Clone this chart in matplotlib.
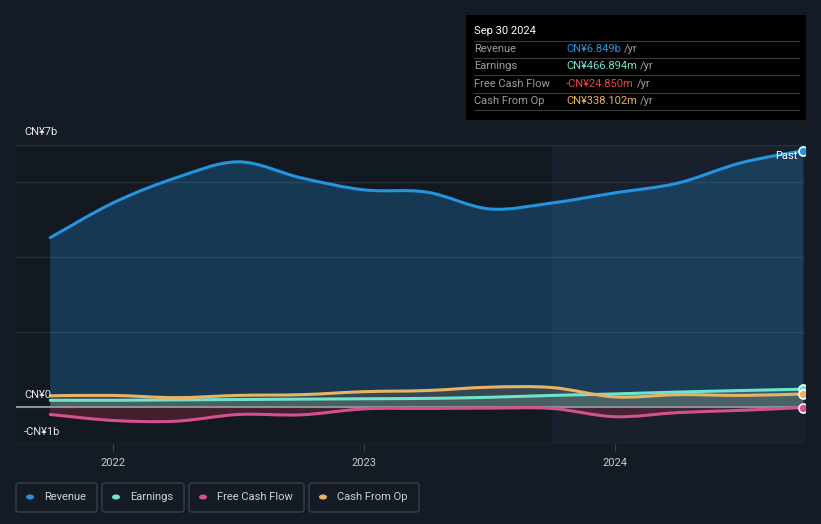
import matplotlib.pyplot as plt
import numpy as np
from matplotlib.path import Path
from matplotlib.patches import PathPatch, Rectangle, FancyBboxPatch, Circle

plt.rcParams['font.family'] = ['Roboto', 'DejaVu Sans']

# quarter ends, Sep 2021 .. Sep 2024 (decimal years)
quarters = [2021.75, 2022.0, 2022.25, 2022.5, 2022.75, 2023.0, 2023.25,
            2023.5, 2023.75, 2024.0, 2024.25, 2024.5, 2024.75]
# values in CN¥ billions
revenue = [4.52, 5.45, 6.12, 6.55, 6.12, 5.80, 5.74, 5.29, 5.45, 5.72, 5.98, 6.52, 6.849]
earnings = [0.17, 0.17, 0.18, 0.19, 0.20, 0.21, 0.22, 0.25, 0.30, 0.34, 0.39, 0.43, 0.467]
fcf = [-0.21, -0.37, -0.39, -0.21, -0.22, -0.06, -0.05, -0.04, -0.05, -0.27, -0.16, -0.10, -0.025]
cfo = [0.29, 0.30, 0.24, 0.30, 0.32, 0.40, 0.43, 0.52, 0.51, 0.26, 0.32, 0.30, 0.338]

series_names = ['Revenue', 'Earnings', 'Free Cash Flow', 'Cash From Op']
series_colors = ['#2394df', '#6fe3cb', '#d4508f', '#e9b366']
tooltip_values = ['CN¥6.849b', 'CN¥466.894m', '-CN¥24.850m', 'CN¥338.102m']
value_colors = ['#2394df', '#6fe3cb', '#e84545', '#e9b366']
year_ticks = [2022, 2023, 2024]

BG = '#151b24'
W, H = 821, 524


def fx(px):
    return px / W


def fy(py):
    return 1 - py / H


def smooth_path(xs, ys):
    # Catmull-Rom style cubic bezier through the data points
    xs = np.asarray(xs, float)
    ys = np.asarray(ys, float)
    n = len(xs)
    verts = [(xs[0], ys[0])]
    codes = [Path.MOVETO]
    for i in range(n - 1):
        i0 = max(i - 1, 0)
        i3 = min(i + 2, n - 1)
        c1 = (xs[i] + (xs[i + 1] - xs[i0]) / 6, ys[i] + (ys[i + 1] - ys[i0]) / 6)
        c2 = (xs[i + 1] - (xs[i3] - xs[i]) / 6, ys[i + 1] - (ys[i3] - ys[i]) / 6)
        verts += [c1, c2, (xs[i + 1], ys[i + 1])]
        codes += [Path.CURVE4] * 3
    return verts, codes


fig = plt.figure(figsize=(8.21, 5.24), dpi=100)
fig.patch.set_facecolor(BG)

ax = fig.add_axes([fx(16), fy(444), fx(805) - fx(16), fy(145) - fy(444)])
ax.set_facecolor(BG)
x_left = 2022 - (113 - 16) / 251
x_right = 2024 + (805 - 615) / 251
x_split = 2024 + (552 - 615) / 251
ax.set_xlim(x_left, x_right)
ax.set_ylim(-1, 7)
for s in ax.spines.values():
    s.set_visible(False)

# highlighted last year
ax.axvspan(x_split, x_right, color='#1c2a3a', alpha=0.4, zorder=0, lw=0)
ax.axvspan(x_left, x_split, color='#0e1218', alpha=0.2, zorder=0, lw=0)

for g in [2, 4, 6, 7]:
    ax.axhline(g, color='#2a313b', lw=1, zorder=1)
ax.axhline(-1, color='#3a414b', lw=1, zorder=1)

fill_colors = ['#2394df', '#7fbfae', '#a02840', '#b08a50']
fill_alphas = [0.26, 0.22, 0.35, 0.2]
for vals, col, fcol, fa in zip([revenue, earnings, fcf, cfo], series_colors, fill_colors, fill_alphas):
    verts, codes = smooth_path(quarters, vals)
    fverts = verts + [(quarters[-1], 0), (quarters[0], 0), (quarters[0], vals[0])]
    fcodes = codes + [Path.LINETO, Path.LINETO, Path.CLOSEPOLY]
    ax.add_patch(PathPatch(Path(fverts, fcodes), facecolor=fcol, alpha=fa, lw=0, zorder=2))

ax.axhline(0, color='#8a9098', lw=1.5, zorder=3)

for vals, col in zip([revenue, earnings, fcf, cfo], series_colors):
    verts, codes = smooth_path(quarters, vals)
    ax.add_patch(PathPatch(Path(verts, codes), facecolor='none', edgecolor=col,
                           lw=2.2, zorder=4, capstyle='round'))
    ax.plot(quarters[-1], vals[-1], 'o', ms=6.5, mfc=col, mec='white', mew=1.2,
            zorder=6, clip_on=True)

ax.set_xticks(year_ticks)
ax.set_xticklabels([str(y) for y in year_ticks])
ax.tick_params(axis='x', colors='#3a414b', length=5, labelcolor='#c8ccd0', labelsize=8, pad=5)
ax.set_yticks([])

# y labels
fig.text(fx(24), fy(132), 'CN¥7b', color='#e6e8ea', fontsize=8, va='center')
fig.text(fx(24), fy(395), 'CN¥0', color='#e6e8ea', fontsize=8, va='center')
fig.text(fx(24), fy(432), '-CN¥1b', color='#e6e8ea', fontsize=8, va='center')
fig.text(fx(797), fy(156), 'Past', color='#ffffff', fontsize=8, va='center', ha='right')

# tooltip
fig.add_artist(Rectangle((fx(466), fy(120)), fx(806) - fx(466), fy(15) - fy(120),
                         transform=fig.transFigure, facecolor='#000000', edgecolor='none'))
fig.text(fx(474), fy(31), 'Sep 30 2024', color='#ffffff', fontsize=8, va='center')
row_y = [49, 66, 84, 101]
for i, (name, val, vc) in enumerate(zip(series_names, tooltip_values, value_colors)):
    fig.text(fx(474), fy(row_y[i]), name, color='#9a9ea3', fontsize=8, va='center')
    t = fig.text(fx(566), fy(row_y[i]), val, color=vc, fontsize=8, va='center')
    fig.canvas.draw()
    bb = t.get_window_extent()
    fig.text(bb.x1 / W + fx(3), fy(row_y[i]), '/yr', color='#9a9ea3', fontsize=8, va='center')
for ly in [41, 58, 75, 93, 110]:
    fig.add_artist(plt.Line2D([fx(474), fx(799)], [fy(ly), fy(ly)], transform=fig.transFigure,
                              color='#3a3a3a', lw=0.8))

# legend
legend_boxes = [(16, 97), (102, 184), (189, 304), (309, 419)]
for (x0, x1), name, col in zip(legend_boxes, series_names, series_colors):
    fig.add_artist(FancyBboxPatch((fx(x0), fy(512)), fx(x1) - fx(x0), fy(483) - fy(512),
                                  boxstyle='round,pad=0,rounding_size=0.004',
                                  transform=fig.transFigure, facecolor='none',
                                  edgecolor='#3a4049', lw=1))
    fig.add_artist(Circle((fx(x0 + 14), fy(497)), 4 / W, transform=fig.transFigure,
                          facecolor=col, edgecolor='none'))
    fig.text(fx(x0 + 28), fy(497), name, color='#d0d3d6', fontsize=8, va='center')

fig.savefig('out.png', dpi=100, facecolor=BG)
